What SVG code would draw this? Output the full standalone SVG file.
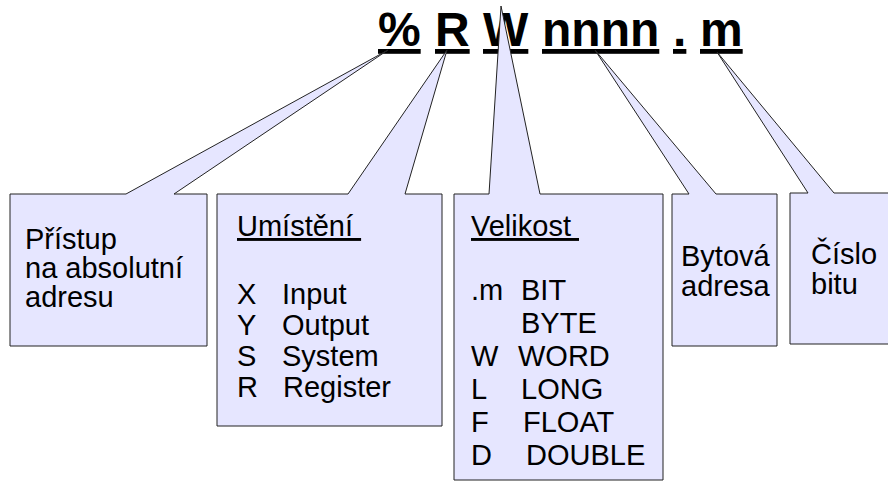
<svg xmlns="http://www.w3.org/2000/svg" width="888" height="485" viewBox="0 0 888 485">
<style>
.title{font-family:"Liberation Sans",Arial,sans-serif;font-weight:bold;font-size:48px;fill:#000;text-decoration:underline;}
.t{font-family:"Liberation Sans",Arial,sans-serif;font-size:29px;fill:#000;}
.u{text-decoration:underline;}
.call{fill:#e6e6ff;stroke:#222;stroke-width:1;stroke-linejoin:miter;}
</style>
<rect width="888" height="485" fill="#fff"/>
<g id="title">
<text class="title" x="378" y="46">%</text>
<text class="title" x="435" y="46">R</text>
<text class="title" x="483" y="46">W</text>
<text class="title" x="542" y="46">nnnn</text>
<text class="title" x="673" y="46">.</text>
<text class="title" x="700" y="46">m</text>
</g>
<g id="connectors"></g>
<g id="box-pristup">
<path class="call" d="M10,194 L126,194 L388,50 L174,194 L207,194 L207,346 L10,346 Z"/>
<text class="t" x="25" y="249">Přístup</text>
<text class="t" x="25" y="278">na absolutní</text>
<text class="t" x="25" y="307">adresu</text>
</g>
<g id="box-umisteni">
<path class="call" d="M217,194 L348,194 L447,50 L405,194 L442,194 L442,426 L217,426 Z"/>
<text class="t u" x="237" y="236" xml:space="preserve">Umístění </text>
<text class="t" x="237" y="304">X</text><text class="t" x="282" y="304">Input</text>
<text class="t" x="237" y="335">Y</text><text class="t" x="282" y="335">Output</text>
<text class="t" x="237" y="366">S</text><text class="t" x="282" y="366">System</text>
<text class="t" x="237" y="397">R</text><text class="t" x="283" y="397">Register</text>
</g>
<g id="box-velikost">
<path class="call" d="M454,194 L489,194 L501,6 L540,194 L663,194 L663,480 L454,480 Z"/>
<text class="t u" x="471" y="236" xml:space="preserve">Velikost </text>
<text class="t" x="471" y="300">.m</text><text class="t" x="521" y="300">BIT</text>
<text class="t" x="521" y="333">BYTE</text>
<text class="t" x="471" y="366">W</text><text class="t" x="518" y="366">WORD</text>
<text class="t" x="471" y="399">L</text><text class="t" x="521" y="399">LONG</text>
<text class="t" x="471" y="432">F</text><text class="t" x="523" y="432">FLOAT</text>
<text class="t" x="471" y="465">D</text><text class="t" x="526" y="465">DOUBLE</text>
</g>
<g id="box-bytova">
<path class="call" d="M672,194 L689,194 L595,50 L716,194 L777,194 L777,346 L672,346 Z"/>
<text class="t" x="681" y="266">Bytová</text>
<text class="t" x="681" y="296">adresa</text>
</g>
<g id="box-cislo">
<path class="call" d="M790,193 L808,193 L717,52 L834,193 L890,193 L890,344 L790,344 Z"/>
<text class="t" x="811" y="264">Číslo</text>
<text class="t" x="811" y="294">bitu</text>
</g>
</svg>
